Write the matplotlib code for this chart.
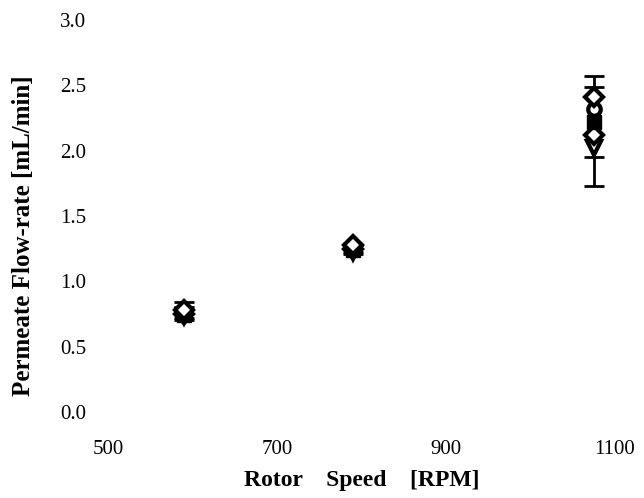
import matplotlib
matplotlib.use("Agg")
import matplotlib.pyplot as plt

rpm = [590, 790, 1075]

# five overlapping runs
run_diamond = [0.78, 1.28, 2.41]
run_circle = [0.76, 1.27, 2.32]
run_square = [0.74, 1.24, 2.22]
run_diamond2 = [0.75, 1.25, 2.12]
run_triangle = [0.73, 1.22, 2.02]

# asymmetric error bars (lower, upper)
err_square = [[0.04, 0.03, 0.49], [0.10, 0.04, 0.35]]
err_diamond2 = [[0.03, 0.03, 0.17], [0.05, 0.03, 0.37]]

plt.rcParams["font.family"] = ["Liberation Serif", "DejaVu Serif"]

fig = plt.figure(figsize=(6.44, 4.98), dpi=100)
ax = fig.add_axes([0.168, 0.173, 0.787, 0.787])

ax.errorbar(rpm, run_square, yerr=err_square, fmt="none", ecolor="black",
            elinewidth=2, capsize=7, capthick=2)
ax.errorbar(rpm, run_diamond2, yerr=err_diamond2, fmt="none", ecolor="black",
            elinewidth=2, capsize=7, capthick=2)
ax.plot(rpm, run_triangle, "v", mfc="white", mec="black", mew=3, ms=10, ls="none")
ax.plot(rpm, run_diamond2, "D", mfc="white", mec="black", mew=3, ms=9, ls="none")
ax.plot(rpm, run_square, "s", color="black", ms=10, ls="none")
ax.plot(rpm, run_circle, "o", mfc="white", mec="black", mew=3, ms=9, ls="none")
ax.plot(rpm, run_diamond, "D", mfc="white", mec="black", mew=3, ms=9, ls="none")

ax.set_xlim(500, 1100)
ax.set_ylim(0, 3.0)
ax.set_xticks([500, 700, 900, 1100])
ax.set_yticks([0.0, 0.5, 1.0, 1.5, 2.0, 2.5, 3.0])
ax.set_yticklabels(["0.0", "0.5", "1.0", "1.5", "2.0", "2.5", "3.0"])
for s in ax.spines.values():
    s.set_visible(False)
ax.tick_params(axis="both", length=0, labelsize=15)
ax.tick_params(axis="x", pad=20)
ax.tick_params(axis="y", pad=16)

ax.set_xlabel("Rotor    Speed    [RPM]", fontsize=17, fontweight="bold", labelpad=8)
ax.set_ylabel("Permeate Flow-rate [mL/min]", fontsize=18, fontweight="bold")
ax.yaxis.set_label_coords(-0.145, 0.45)

fig.savefig("out.png", dpi=100)
